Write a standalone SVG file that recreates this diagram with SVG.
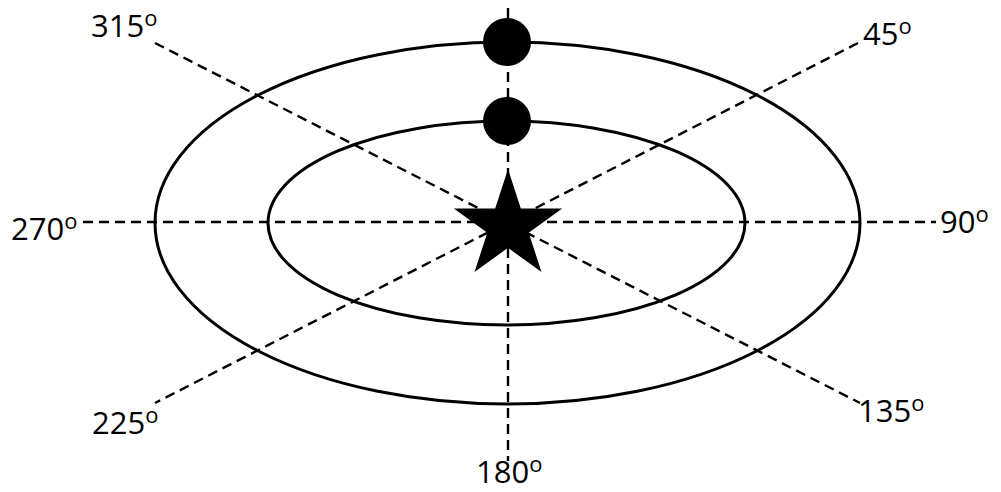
<svg xmlns="http://www.w3.org/2000/svg" width="1001" height="492" viewBox="0 0 1001 492">
<style>
.dash{stroke:#000;stroke-width:2.4;stroke-dasharray:10 6;fill:none}
.orbit{stroke:#000;stroke-width:3;fill:none}
.lbl{font-family:"Open Sans","Liberation Sans",sans-serif;font-size:31px;fill:#000}
.sup{font-size:22px}
</style>
<rect width="1001" height="492" fill="#fff"/>
<g id="connectors">
<line class="dash" x1="508" y1="8" x2="508" y2="461"/>
<line class="dash" x1="83" y1="222" x2="936" y2="222"/>
<line class="dash" x1="155" y1="43" x2="860" y2="403"/>
<line class="dash" x1="858" y1="43" x2="155" y2="403"/>
</g>
<g id="outer-orbit"><ellipse class="orbit" cx="507.5" cy="223" rx="352.5" ry="181"/></g>
<g id="inner-orbit"><ellipse class="orbit" cx="506.5" cy="223" rx="238.5" ry="102"/></g>
<g id="planet-outer"><circle cx="507" cy="42" r="24" fill="#000"/></g>
<g id="planet-inner"><circle cx="507" cy="121" r="24" fill="#000"/></g>
<g id="star"><polygon fill="#000" points="508,169 520.8,208.4 562.2,208.4 528.7,232.7 541.5,272.1 508,247.8 474.5,272.1 487.3,232.7 453.8,208.4 495.2,208.4"/></g>
<g id="labels">
<text class="lbl" x="91" y="37">315<tspan class="sup" dy="-11">o</tspan></text>
<text class="lbl" x="863" y="45">45<tspan class="sup" dy="-11">o</tspan></text>
<text class="lbl" x="11" y="240">270<tspan class="sup" dy="-11">o</tspan></text>
<text class="lbl" x="940" y="233">90<tspan class="sup" dy="-11">o</tspan></text>
<text class="lbl" x="92" y="434">225<tspan class="sup" dy="-11">o</tspan></text>
<text class="lbl" x="476" y="483">180<tspan class="sup" dy="-11">o</tspan></text>
<text class="lbl" x="858" y="422">135<tspan class="sup" dy="-11">o</tspan></text>
</g>
</svg>
